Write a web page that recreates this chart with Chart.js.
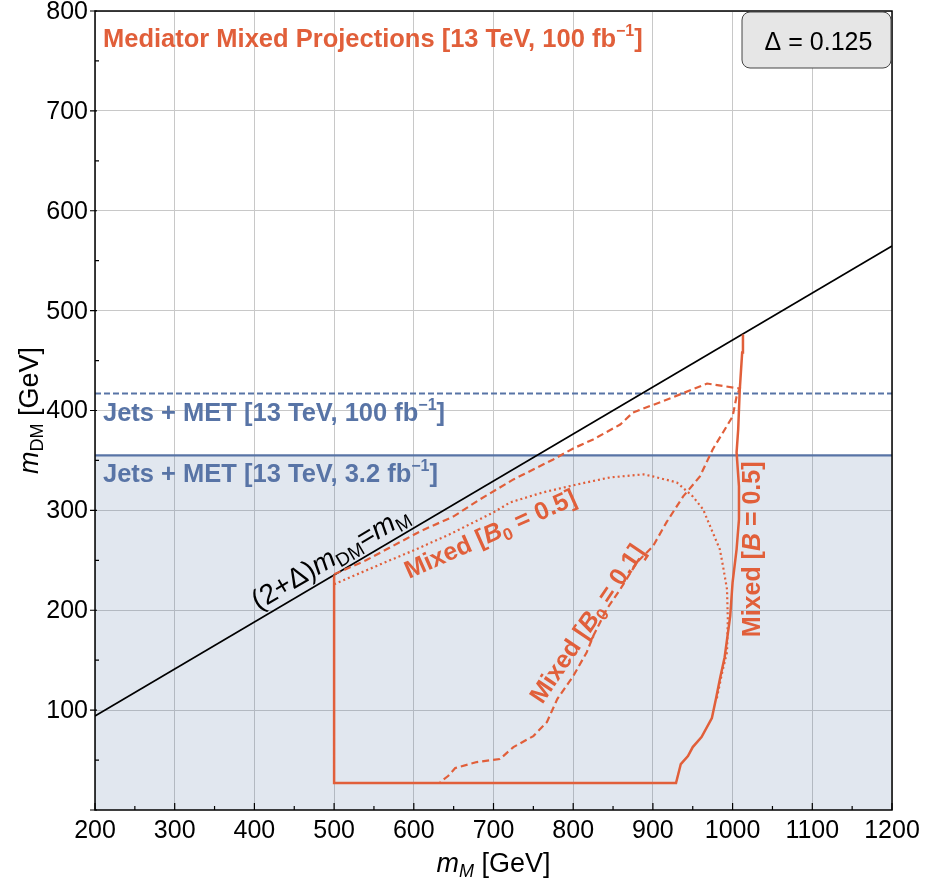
<!DOCTYPE html>
<html>
<head>
<meta charset="UTF-8">
<title>Mediator Mixed Projections</title>
<script src="https://cdn.jsdelivr.net/npm/chart.js"></script>
<style>
  html, body { margin: 0; padding: 0; background: #fff; }
  #wrap { width: 925px; height: 886px; }
</style>
</head>
<body>
<div id="wrap"><canvas id="c"></canvas></div>
<script>
// ---- data (x = m_M, y = m_DM, GeV) ----
const xTicks = [200, 300, 400, 500, 600, 700, 800, 900, 1000, 1100, 1200];
const yTicks = [100, 200, 300, 400, 500, 600, 700, 800];

// Mixed [B = 0.5], solid
const solidX = [500, 500, 929, 935, 944, 950, 961, 974, 979, 984, 990, 997, 1000, 1005, 1008, 1008, 1005, 1007, 1009, 1012, 1013];
const solidY = [235, 27, 27, 46, 54, 63, 73, 92, 111, 131, 153, 194, 228, 261, 291, 324, 358, 381, 421, 458, 476];

// Mixed [B0 = 0.1], dashed
const dashX = [500, 540, 608, 650, 683, 725, 775, 800, 825, 859, 875, 918, 968, 1009, 1005, 1000, 975, 959, 938, 917, 900, 880, 859, 842, 825, 817, 800, 780, 767, 750, 725, 708, 679, 652, 643, 633];
const dashY = [236, 250, 279, 294, 311, 331, 351, 362, 371, 386, 398, 411, 427, 422, 414, 394, 361, 334, 314, 288, 264, 248, 221, 201, 174, 158, 134, 111, 88, 74, 63, 51, 48, 42, 34, 28];

// Mixed [B0 = 0.5], dotted
const dotX = [500, 558, 600, 645, 700, 721, 762, 805, 846, 888, 900, 930, 950, 963, 975, 984, 988, 993, 994, 993, 987, 980];
const dotY = [226, 246, 260, 276, 298, 308, 318, 326, 333, 336, 334, 328, 314, 301, 278, 261, 244, 221, 191, 158, 138, 111];

// (2+Δ) m_DM = m_M, Δ = 0.125
const diagX = [200, 1200];
const diagY = [94.1, 564.7];

// Jets + MET limits
const jetsX = [200, 1200];
const jets32 = 355;   // 3.2 fb^-1
const jets100 = 417;  // 100 fb^-1

const ORANGE = '#e15f3a';
const BLUE = '#5874a6';
const FONT = "'Liberation Sans', Arial, sans-serif";

const pts = (xs, ys) => xs.map((x, i) => ({ x: x, y: ys[i] }));
const flat = (xs, v) => xs.map(x => ({ x: x, y: v }));

// draw a run of text pieces (for sub/superscripts)
function rich(ctx, segs, x, y, align) {
  let w = 0;
  segs.forEach(s => {
    ctx.font = (s.st || '') + ' ' + s.s + 'px ' + FONT;
    s.w = ctx.measureText(s.t).width;
    w += s.w;
  });
  let cx = align === 'center' ? x - w / 2 : (align === 'right' ? x - w : x);
  ctx.textAlign = 'left';
  ctx.textBaseline = 'alphabetic';
  segs.forEach(s => {
    ctx.font = (s.st || '') + ' ' + s.s + 'px ' + FONT;
    ctx.fillText(s.t, cx, y + (s.dy || 0));
    cx += s.w;
  });
}

function rotText(ctx, segs, px, py, deg, color) {
  ctx.save();
  ctx.translate(px, py);
  ctx.rotate(deg * Math.PI / 180);
  ctx.fillStyle = color;
  rich(ctx, segs, 0, 0, 'center');
  ctx.restore();
}

const decor = {
  id: 'decor',
  afterDatasetsDraw(chart) {
    const ctx = chart.ctx, a = chart.chartArea;
    const xs = chart.scales.x, ys = chart.scales.y;
    ctx.save();

    // frame
    ctx.strokeStyle = '#000';
    ctx.lineWidth = 1.5;
    ctx.strokeRect(a.left, a.top, a.right - a.left, a.bottom - a.top);

    // ticks
    ctx.lineWidth = 1.2;
    ctx.beginPath();
    for (let v = 200; v <= 1200; v += 50) {
      const p = xs.getPixelForValue(v);
      const len = v % 100 === 0 ? 7 : 4;
      ctx.moveTo(p, a.bottom);
      ctx.lineTo(p, a.bottom - len);
    }
    for (let v = 0; v <= 800; v += 50) {
      const p = ys.getPixelForValue(v);
      if (v % 100 === 0) { ctx.moveTo(a.left - 5, p); ctx.lineTo(a.left + 2, p); }
      else { ctx.moveTo(a.left, p); ctx.lineTo(a.left + 4, p); }
    }
    ctx.stroke();

    // tick labels
    ctx.fillStyle = '#000';
    ctx.font = '25px ' + FONT;
    ctx.textAlign = 'center';
    ctx.textBaseline = 'alphabetic';
    xTicks.forEach(v => ctx.fillText(String(v), xs.getPixelForValue(v), a.bottom + 28));
    ctx.textAlign = 'right';
    ctx.textBaseline = 'middle';
    yTicks.forEach(v => ctx.fillText(String(v), a.left - 7, ys.getPixelForValue(v) + 1));

    // title
    ctx.fillStyle = ORANGE;
    rich(ctx, [
      { t: 'Mediator Mixed Projections [13 TeV, 100 fb', s: 25.5, st: 'bold' },
      { t: '\u22121', s: 16, st: 'bold', dy: -11 },
      { t: ']', s: 25.5, st: 'bold' }
    ], a.left + 8, a.top + 36, 'left');

    // jets + MET labels
    ctx.fillStyle = BLUE;
    rich(ctx, [
      { t: 'Jets + MET [13 TeV, 100 fb', s: 25.5, st: 'bold' },
      { t: '\u22121', s: 16, st: 'bold', dy: -11 },
      { t: ']', s: 25.5, st: 'bold' }
    ], a.left + 8, ys.getPixelForValue(jets100) + 27, 'left');
    rich(ctx, [
      { t: 'Jets + MET [13 TeV, 3.2 fb', s: 25.5, st: 'bold' },
      { t: '\u22121', s: 16, st: 'bold', dy: -11 },
      { t: ']', s: 25.5, st: 'bold' }
    ], a.left + 8, ys.getPixelForValue(jets32) + 27, 'left');

    // diagonal label
    const dx = xs.getPixelForValue(506), dy = ys.getPixelForValue(506 / 2.125);
    ctx.save();
    ctx.translate(dx, dy);
    ctx.rotate(-30.6 * Math.PI / 180);
    ctx.fillStyle = '#000';
    rich(ctx, [
      { t: '(2+\u0394)', s: 28 },
      { t: 'm', s: 28, st: 'italic' },
      { t: 'DM', s: 19, dy: 5 },
      { t: '=', s: 28 },
      { t: 'm', s: 28, st: 'italic' },
      { t: 'M', s: 19, dy: 5 }
    ], 0, -8, 'center');
    ctx.restore();

    // curve labels
    rotText(ctx, [
      { t: 'Mixed [', s: 25, st: 'bold' },
      { t: 'B', s: 25, st: 'italic bold' },
      { t: '0', s: 17, st: 'bold', dy: 5 },
      { t: ' = 0.5]', s: 25, st: 'bold' }
    ], xs.getPixelForValue(700), ys.getPixelForValue(269), -24, ORANGE);
    rotText(ctx, [
      { t: 'Mixed [', s: 25, st: 'bold' },
      { t: 'B', s: 25, st: 'italic bold' },
      { t: '0', s: 17, st: 'bold', dy: 5 },
      { t: ' = 0.1]', s: 25, st: 'bold' }
    ], xs.getPixelForValue(826), ys.getPixelForValue(182), -56, ORANGE);
    rotText(ctx, [
      { t: 'Mixed [', s: 25, st: 'bold' },
      { t: 'B', s: 25, st: 'italic bold' },
      { t: ' = 0.5]', s: 25, st: 'bold' }
    ], xs.getPixelForValue(1034), ys.getPixelForValue(261), -90, ORANGE);

    // delta box
    const bx = a.right - 150, by = a.top + 1, bw = 149, bh = 56;
    ctx.beginPath();
    ctx.roundRect(bx, by, bw, bh, 8);
    ctx.fillStyle = '#e6e6e6';
    ctx.fill();
    ctx.strokeStyle = '#444';
    ctx.lineWidth = 1;
    ctx.stroke();
    ctx.fillStyle = '#000';
    rich(ctx, [{ t: '\u0394 = 0.125', s: 25 }], bx + bw / 2 + 2, by + 38, 'center');

    // axis titles
    rich(ctx, [
      { t: 'm', s: 27, st: 'italic' },
      { t: 'M', s: 18, st: 'italic', dy: 5 },
      { t: ' [GeV]', s: 27 }
    ], (a.left + a.right) / 2, 872, 'center');
    ctx.save();
    ctx.translate(38, (a.top + a.bottom) / 2);
    ctx.rotate(-Math.PI / 2);
    rich(ctx, [
      { t: 'm', s: 27, st: 'italic' },
      { t: 'DM', s: 18, dy: 5 },
      { t: ' [GeV]', s: 27 }
    ], 0, 0, 'center');
    ctx.restore();

    ctx.restore();
  }
};

new Chart(document.getElementById('c'), {
  type: 'scatter',
  data: {
    datasets: [
      { data: pts(solidX, solidY), showLine: true, borderColor: ORANGE, borderWidth: 2.5, pointRadius: 0 },
      { data: pts(dashX, dashY), showLine: true, borderColor: ORANGE, borderWidth: 2.2, borderDash: [7, 4], pointRadius: 0 },
      { data: pts(dotX, dotY), showLine: true, borderColor: ORANGE, borderWidth: 2.2, borderDash: [2, 3], pointRadius: 0 },
      { data: pts(diagX, diagY), showLine: true, borderColor: '#000', borderWidth: 1.6, pointRadius: 0 },
      { data: flat(jetsX, jets100), showLine: true, borderColor: BLUE, borderWidth: 1.8, borderDash: [6, 3], pointRadius: 0 },
      { data: flat(jetsX, jets32), showLine: true, borderColor: BLUE, borderWidth: 2.2, pointRadius: 0,
        fill: 'start', backgroundColor: 'rgba(80,110,160,0.17)' }
    ]
  },
  options: {
    responsive: true,
    maintainAspectRatio: false,
    animation: false,
    layout: { padding: { left: 0, right: 33, top: 11, bottom: 0 } },
    plugins: { legend: { display: false }, tooltip: { enabled: false } },
    scales: {
      x: {
        type: 'linear', min: 200, max: 1200,
        afterFit: s => { s.height = 76; },
        afterBuildTicks: s => { s.ticks = xTicks.map(v => ({ value: v })); },
        ticks: { display: false },
        grid: { color: '#c8c8c8', lineWidth: 1, drawTicks: false },
        border: { display: false }
      },
      y: {
        type: 'linear', min: 0, max: 800,
        afterFit: s => { s.width = 95; },
        afterBuildTicks: s => { s.ticks = yTicks.map(v => ({ value: v })); },
        ticks: { display: false },
        grid: { color: '#c8c8c8', lineWidth: 1, drawTicks: false },
        border: { display: false }
      }
    }
  },
  plugins: [decor]
});
</script>
</body>
</html>
